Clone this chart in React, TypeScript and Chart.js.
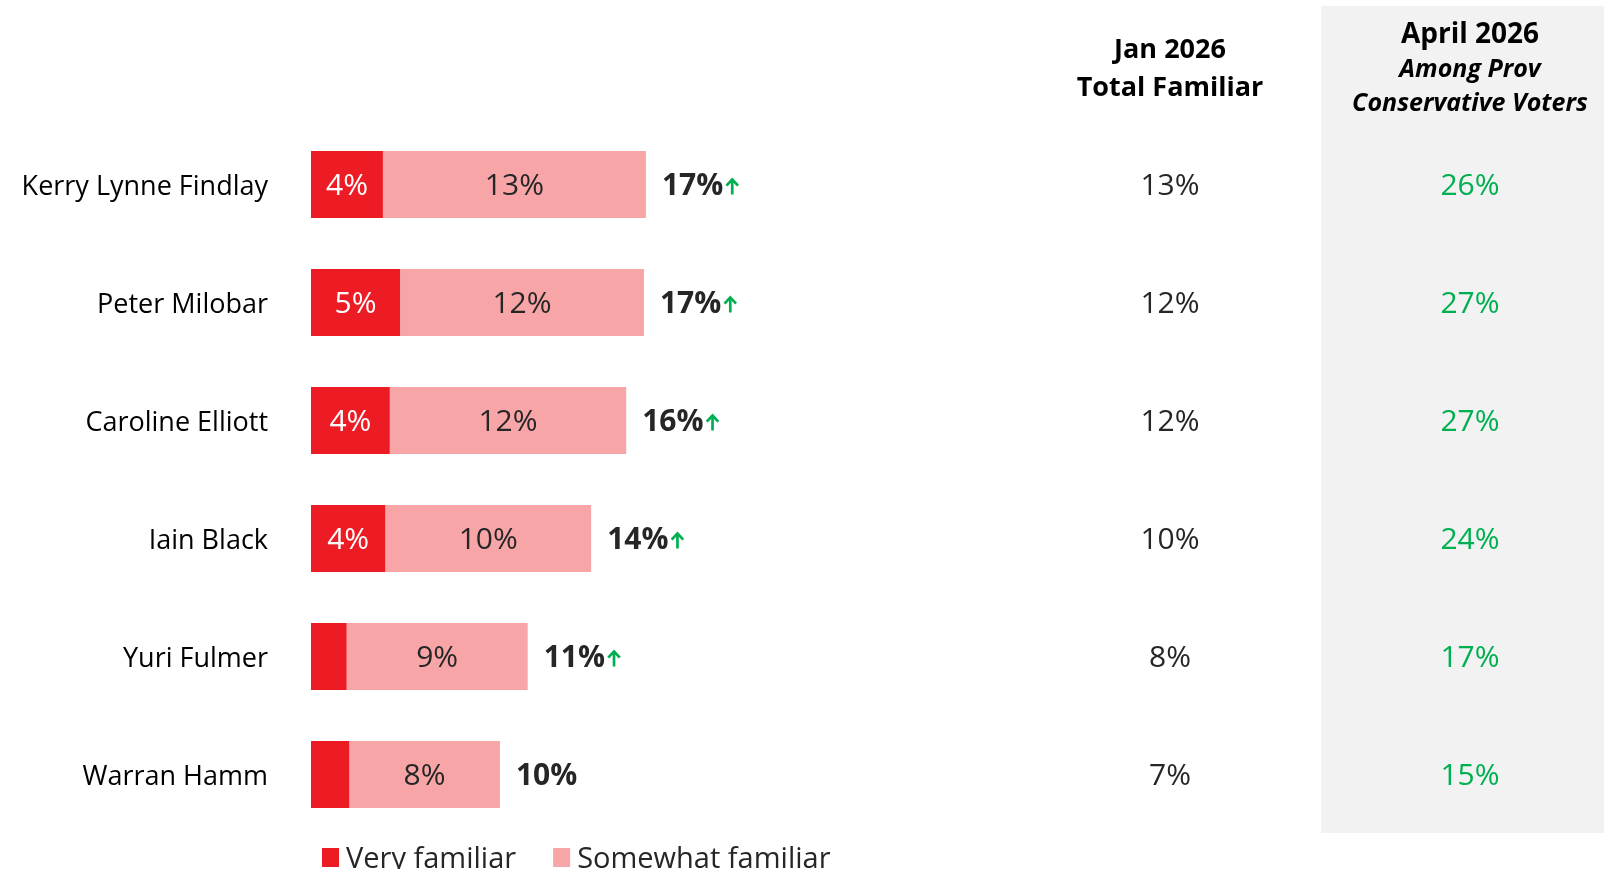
import React, { useEffect, useRef } from "react";
import { Chart, registerables } from "chart.js";

Chart.register(...registerables);

// ---- data ----
const candidates = [
  "Kerry Lynne Findlay",
  "Peter Milobar",
  "Caroline Elliott",
  "Iain Black",
  "Yuri Fulmer",
  "Warran Hamm",
];
const veryFamiliar = [3.65, 4.52, 4.0, 3.77, 1.81, 1.94];
const somewhatFamiliar = [13.35, 12.38, 12.0, 10.45, 9.19, 7.65];
const risingSinceJan = [true, true, true, true, true, false];
const jan2026Total = [13, 12, 12, 10, 8, 7];
const april2026Conservative = [26, 27, 27, 24, 17, 15];
const seriesNames = ["Very familiar", "Somewhat familiar"];
const janHeader = ["Jan 2026", "Total Familiar"];
const aprilTitle = "April 2026";
const aprilSubtitle = ["Among Prov", "Conservative Voters"];

// ---- styles ----
const FONT = "'Open Sans', 'Noto Sans', sans-serif";
const RED = "#ED1C24";
const PINK = "#F8A5A8";
const GREEN = "#00B050";
const DARK = "#262626";
const PANEL = "#F2F2F2";

const JAN_X = 1170;
const APR_X = 1470;
const PANEL_LEFT = 1321;
const PANEL_TOP = 6;
const PANEL_BOTTOM = 833;

const pct = (v: number) => `${Math.round(v)}%`;

const overlayPlugin = {
  id: "overlay",
  beforeDraw(chart: any) {
    const ctx = chart.ctx;
    ctx.save();
    ctx.fillStyle = PANEL;
    ctx.fillRect(PANEL_LEFT, PANEL_TOP, chart.width - PANEL_LEFT, PANEL_BOTTOM - PANEL_TOP);
    ctx.restore();
  },
  afterDatasetsDraw(chart: any) {
    const ctx = chart.ctx;
    const m0 = chart.getDatasetMeta(0);
    const m1 = chart.getDatasetMeta(1);
    ctx.save();
    ctx.textBaseline = "alphabetic";
    const fs = 30;
    const off = fs * 0.36;
    m0.data.forEach((bar: any, i: number) => {
      const { x, y, base } = bar.getProps(["x", "y", "base"], true);
      const v = veryFamiliar[i];
      if (Math.round(v) >= 3) {
        ctx.font = `${fs}px ${FONT}`;
        ctx.fillStyle = "#FFFFFF";
        ctx.textAlign = "center";
        ctx.fillText(pct(v), (x + base) / 2, y + off);
      }
      const b1 = m1.data[i].getProps(["x", "y", "base"], true);
      ctx.font = `${fs}px ${FONT}`;
      ctx.fillStyle = DARK;
      ctx.textAlign = "center";
      ctx.fillText(pct(somewhatFamiliar[i]), (b1.x + b1.base) / 2, y + off);

      // total
      const total = veryFamiliar[i] + somewhatFamiliar[i];
      ctx.font = `bold ${fs}px ${FONT}`;
      ctx.textAlign = "left";
      const tx = b1.x + 16;
      const label = pct(total);
      ctx.fillText(label, tx, y + off);
      if (risingSinceJan[i]) {
        const ax = tx + ctx.measureText(label).width + 9;
        ctx.strokeStyle = GREEN;
        ctx.lineWidth = 2.7;
        ctx.lineCap = "butt";
        ctx.beginPath();
        ctx.moveTo(ax, y + 10);
        ctx.lineTo(ax, y - 5);
        ctx.stroke();
        ctx.beginPath();
        ctx.moveTo(ax - 5.8, y + 1.2);
        ctx.lineTo(ax, y - 5);
        ctx.lineTo(ax + 5.8, y + 1.2);
        ctx.stroke();
      }

      // right columns
      ctx.textAlign = "center";
      ctx.font = `${fs}px ${FONT}`;
      ctx.fillStyle = DARK;
      ctx.fillText(`${jan2026Total[i]}%`, JAN_X, y + off);
      ctx.fillStyle = GREEN;
      ctx.fillText(`${april2026Conservative[i]}%`, APR_X, y + off);
    });

    // headers
    ctx.fillStyle = "#000000";
    ctx.textAlign = "center";
    ctx.font = `bold 27px ${FONT}`;
    ctx.fillText(janHeader[0], JAN_X, 58);
    ctx.fillText(janHeader[1], JAN_X, 96);
    ctx.font = `bold 28px ${FONT}`;
    ctx.fillText(aprilTitle, APR_X, 43);
    ctx.font = `italic bold 25px ${FONT}`;
    ctx.fillText(aprilSubtitle[0], APR_X, 77);
    ctx.fillText(aprilSubtitle[1], APR_X, 111);

    // legend
    let lx = 322;
    ctx.font = `29px ${FONT}`;
    ctx.textAlign = "left";
    chart.data.datasets.forEach((ds: any) => {
      ctx.fillStyle = ds.backgroundColor;
      ctx.fillRect(lx, 848, 17, 19);
      ctx.fillStyle = DARK;
      ctx.fillText(ds.label, lx + 24, 868);
      lx += 24 + ctx.measureText(ds.label).width + 37;
    });
    ctx.restore();
  },
};

export default function App() {
  const ref = useRef<HTMLCanvasElement | null>(null);
  useEffect(() => {
    if (!ref.current) return;
    const chart = new Chart(ref.current, {
      type: "bar",
      data: {
        labels: candidates,
        datasets: [
          { label: seriesNames[0], data: veryFamiliar, backgroundColor: RED, borderWidth: 0 },
          { label: seriesNames[1], data: somewhatFamiliar, backgroundColor: PINK, borderWidth: 0 },
        ],
      },
      options: {
        indexAxis: "y",
        animation: false,
        responsive: true,
        maintainAspectRatio: false,
        layout: { padding: { top: 125.5, bottom: 35.5, left: 0, right: 702 } },
        plugins: { legend: { display: false }, tooltip: { enabled: false } },
        datasets: { bar: { categoryPercentage: 1, barPercentage: 0.568 } },
        scales: {
          x: { stacked: true, display: false, min: 0, max: 30 },
          y: {
            stacked: true,
            afterFit: (s: any) => {
              s.width = 311;
              s.paddingTop = 0;
              s.paddingBottom = 0;
            },
            grid: { display: false, drawTicks: false },
            border: { display: false },
            ticks: {
              padding: 43,
              labelOffset: 3,
              color: "#000000",
              font: { family: FONT, size: 27 },
            },
          },
        },
      },
      plugins: [overlayPlugin],
    });
    return () => chart.destroy();
  }, []);
  return (
    <div style={{ position: "absolute", left: 0, top: 0, width: 1604, height: 869, background: "#fff" }}>
      <canvas ref={ref} />
    </div>
  );
}
